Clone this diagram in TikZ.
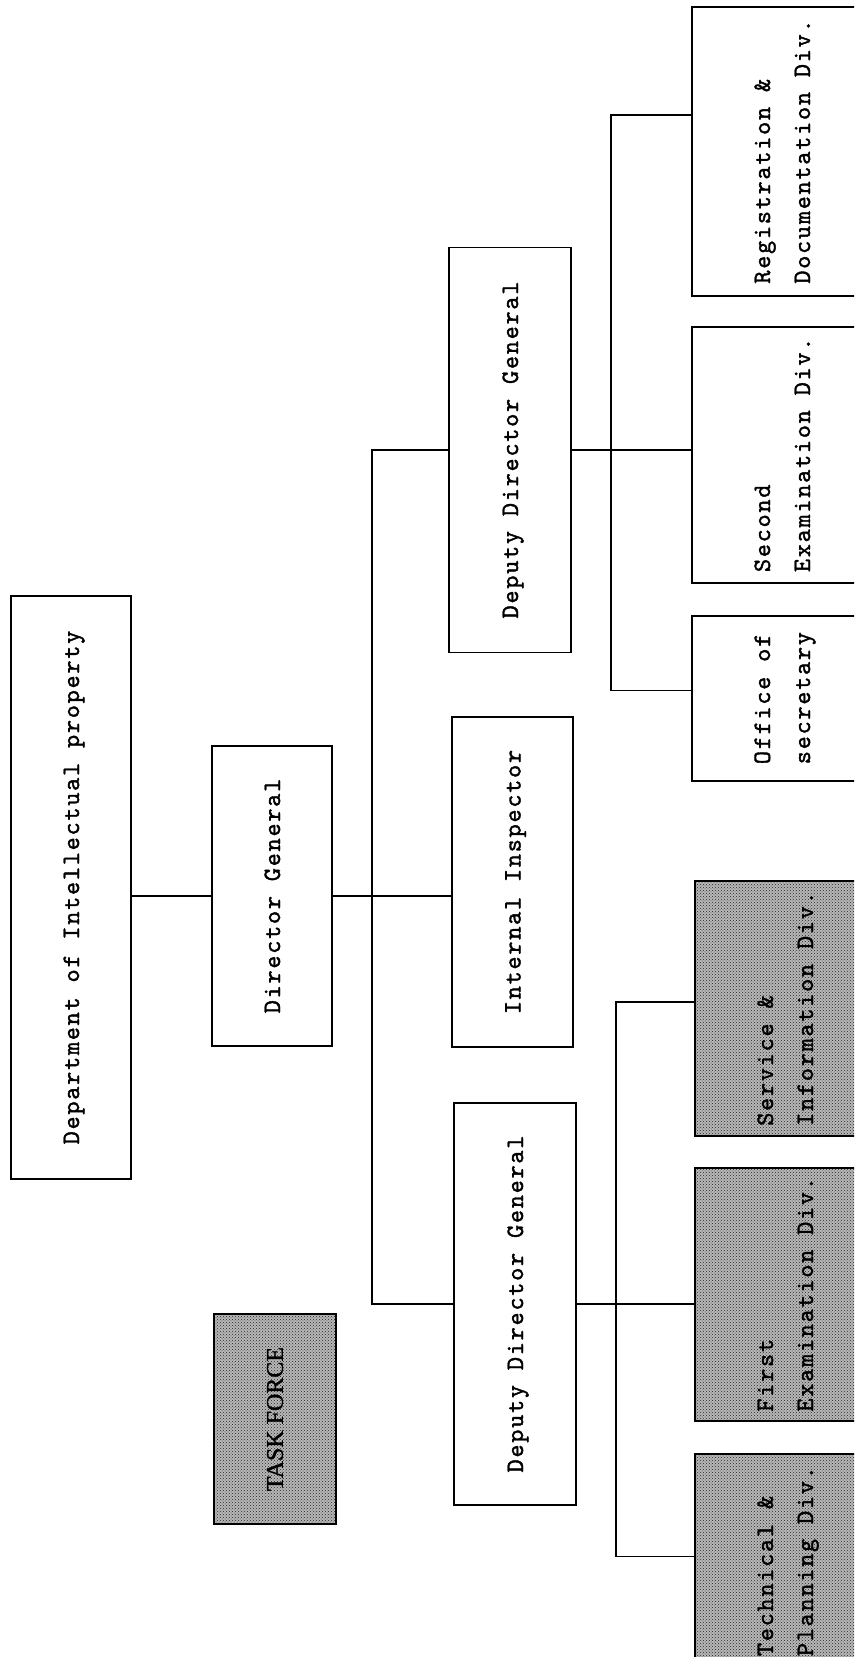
\documentclass[tikz,border=0pt]{standalone}
\usepackage{fontspec}
\usepackage{graphicx}
\newfontfamily\tfserif{Liberation Serif}[FakeBold=1.2]
\newfontfamily\boxfont{lmmono10-regular.otf}[LetterSpace=7,FakeBold=1.5]
\usetikzlibrary{positioning,patterns,calc}
\tikzset{
  unit/.style={draw,line width=1.8pt,inner sep=0pt,font=\fontsize{25}{40}\selectfont\boxfont},
  division/.style={unit,minimum width=180pt},
  shaded/.style={division,preaction={fill=black!28},pattern=crosshatch dots,pattern color=black!85},
  link/.style={line width=1.2pt}
}
\newcommand{\vtext}[1]{\rotatebox{90}{\begin{tabular}{@{}l@{}}#1\end{tabular}}}

\begin{document}
\begin{tikzpicture}[x=1pt,y=-1pt]
\useasboundingbox (0,0) rectangle (854,1657);
\clip (0,0) rectangle (854,1657);

% top of the chart
\node[unit,minimum width=120pt,minimum height=583pt] (dept) at (71,887.5) {\vtext{Department of Intellectual property}};
\node[unit,minimum width=120pt,minimum height=300pt] (dg) at (272,896) {\vtext{Director General}};
\node[unit,minimum width=122pt,minimum height=210pt,preaction={fill=black!28},pattern=crosshatch dots,pattern color=black!85,font=\fontsize{24}{28}\selectfont\tfserif] (task) at (275,1419) {\rotatebox{90}{TASK FORCE}};

% second level
\node[unit,minimum width=122pt,minimum height=405pt] (ddgA) at (510,450) {\vtext{Deputy Director General}};
\node[unit,minimum width=121pt,minimum height=330pt] (insp) at (512.5,882) {\vtext{Internal Inspector}};
\node[unit,minimum width=122pt,minimum height=402pt] (ddgB) at (515,1304) {\vtext{Deputy Director General}};

% divisions
\node[division,minimum height=289pt] (regdoc) at (782,151.5) {\vtext{Registration \&\\Documentation Div.}};
\node[division,minimum height=256pt,below=29pt of regdoc] (secexam) {\vtext{Second\\Examination Div.}};
\node[division,minimum height=165pt,below=31pt of secexam] (office) {\vtext{Office of\\secretary}};
\node[shaded,minimum height=255pt] (service) at (785,1008.5) {\vtext{Service \&\\Information Div.}};
\node[shaded,minimum height=253pt,below=30pt of service] (firstexam) {\vtext{First\\Examination Div.}};
\node[shaded,minimum height=215pt,below=31pt of firstexam] (tech) {\vtext{Technical \&\\Planning Div.}};

\coordinate (bus) at (372,0);
\coordinate (busA) at (611,0);
\coordinate (busB) at (616,0);

% connectors
\draw[link] (dg.west) -- (dg.west -| dept.east);
\draw[link] (dg.east) -- (dg.east -| insp.west);
\draw[link] (ddgA.west) -- (ddgA.west -| bus) -- (ddgB.west -| bus) -- (ddgB.west);

\draw[link] (ddgA.east) -- (ddgA.east -| secexam.west);
\draw[link] ([yshift=36.5pt]regdoc.west) -- ([yshift=36.5pt]regdoc.west -| busA)
  -- ([yshift=7.5pt]office.west -| busA) -- ([yshift=7.5pt]office.west);

\draw[link] (ddgB.east) -- (ddgB.east -| firstexam.west);
\draw[link] ([yshift=6.5pt]service.west) -- ([yshift=6.5pt]service.west -| busB)
  -- ([yshift=4.5pt]tech.west -| busB) -- ([yshift=4.5pt]tech.west);
\end{tikzpicture}
\end{document}
